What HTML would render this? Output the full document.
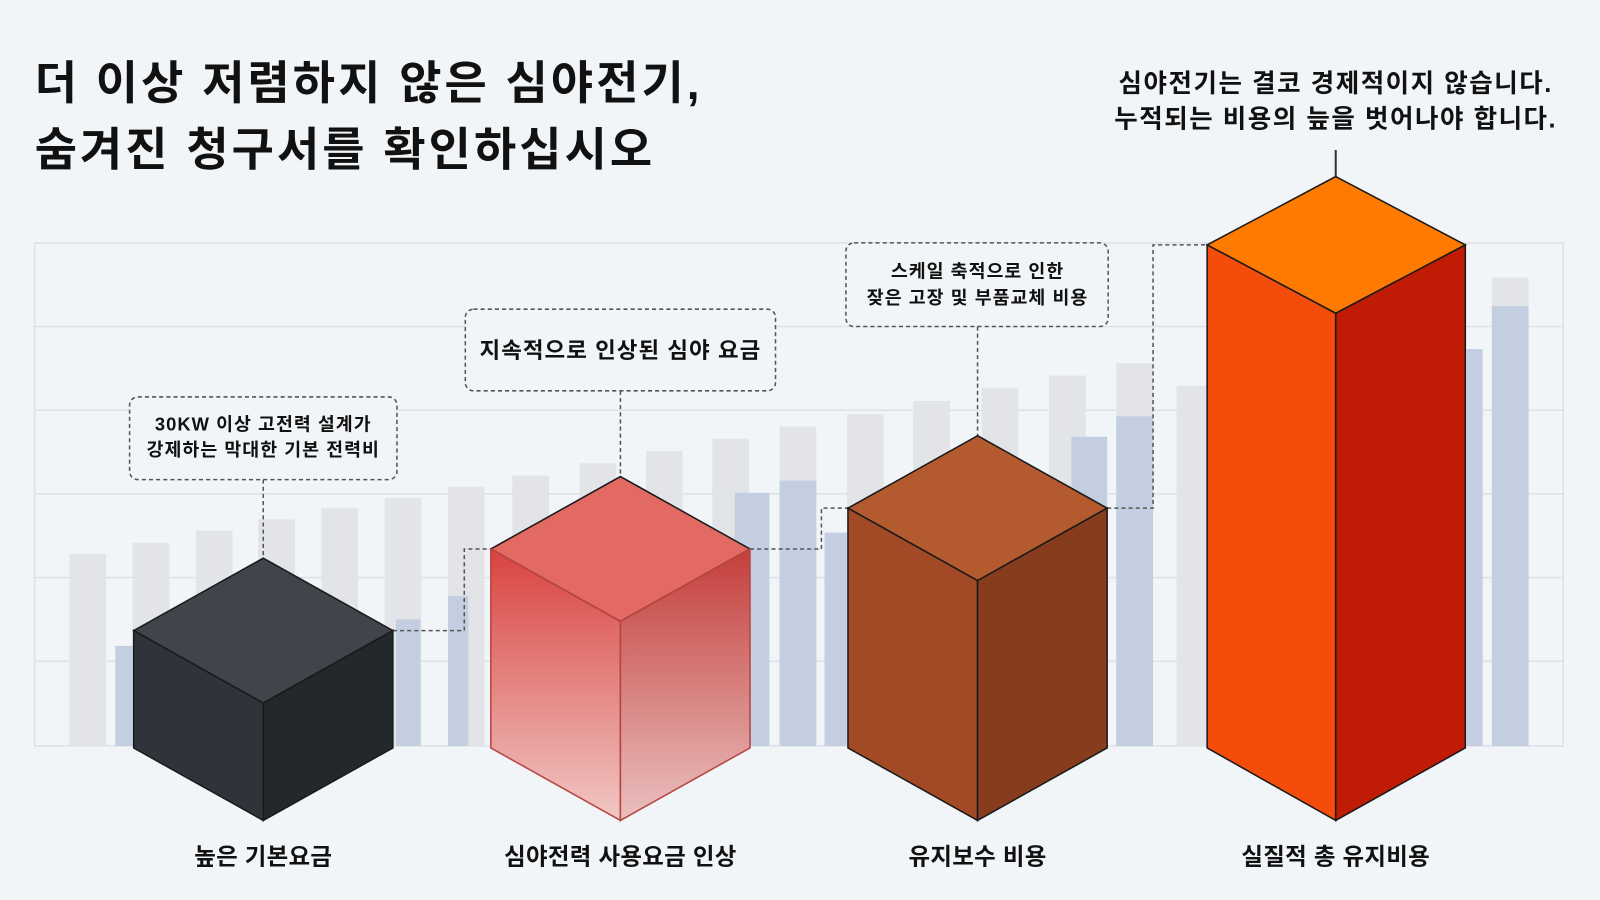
<!DOCTYPE html>
<html><head><meta charset="utf-8"><style>
html,body{margin:0;padding:0;background:#f2f5f8;}
svg{display:block}
text{font-family:"Liberation Sans","Noto Sans CJK KR",sans-serif;font-weight:bold;fill:#111;}
</style></head><body>
<svg width="1600" height="900" viewBox="0 0 1568 882" preserveAspectRatio="none">
<defs>
<linearGradient id="rl" x1="0" y1="0" x2="0" y2="1"><stop offset="0" stop-color="#d9433f"/><stop offset="1" stop-color="#f0c7c5"/></linearGradient>
<linearGradient id="rr" x1="0" y1="0" x2="0" y2="1"><stop offset="0" stop-color="#c43e3b"/><stop offset="1" stop-color="#e9c0bf"/></linearGradient>
</defs>
<rect width="1568" height="882" fill="#f2f5f8"/>
<g stroke="#dde1e6" stroke-width="1.5" fill="none">
<rect x="34" y="238" width="1498" height="493"/>
<line x1="34" y1="320" x2="1532" y2="320"/><line x1="34" y1="402" x2="1532" y2="402"/>
<line x1="34" y1="484" x2="1532" y2="484"/><line x1="34" y1="566" x2="1532" y2="566"/>
<line x1="34" y1="648" x2="1532" y2="648"/>
</g>
<g fill="#e2e4e7">
<rect x="68" y="543" width="36" height="188"/><rect x="130" y="532" width="36" height="199"/>
<rect x="192" y="520" width="36" height="211"/><rect x="253" y="509" width="36" height="222"/>
<rect x="315" y="498" width="36" height="233"/><rect x="377" y="488" width="36" height="243"/>
<rect x="439" y="477" width="36" height="254"/><rect x="502" y="466" width="36" height="265"/>
<rect x="568" y="454" width="36" height="277"/><rect x="633" y="442" width="36" height="289"/>
<rect x="698" y="430" width="36" height="301"/><rect x="764" y="418" width="36" height="313"/>
<rect x="830" y="406" width="36" height="325"/><rect x="895" y="393" width="36" height="338"/>
<rect x="962" y="380" width="36" height="351"/><rect x="1028" y="368" width="36" height="363"/>
<rect x="1094" y="356" width="36" height="375"/><rect x="1153" y="378" width="36" height="353"/>
<rect x="1462" y="272" width="36" height="459"/>
</g>
<g fill="#c3cfe0">
<rect x="113" y="633" width="17" height="98"/><rect x="388" y="607" width="24" height="124"/>
<rect x="439" y="584" width="20" height="147"/><rect x="720" y="483" width="34" height="248"/>
<rect x="764" y="471" width="36" height="260"/><rect x="808" y="522" width="22" height="209"/>
<rect x="1050" y="428" width="35" height="303"/><rect x="1094" y="408" width="36" height="323"/>
<rect x="1437" y="342" width="16" height="389"/><rect x="1462" y="300" width="36" height="431"/>
</g>
<g stroke="#555" stroke-width="1.5" stroke-dasharray="4,3" fill="none">
<path d="M385 618 H455 V538 H481"/><path d="M735 538 H805 V498 H831"/><path d="M1085 498 H1130 V240 H1183"/>
<path d="M258 470 V547"/><path d="M608 383 V467"/><path d="M958 320 V427"/>
<rect x="127" y="389" width="262" height="81" rx="8" fill="#f2f5f8"/>
<rect x="456" y="303" width="304" height="80" rx="8" fill="#f2f5f8"/>
<rect x="829" y="238" width="257" height="82" rx="8" fill="#f2f5f8"/>
</g>
<line x1="1309" y1="147" x2="1309" y2="173" stroke="#333" stroke-width="2"/>
<g stroke="#1a1a1a" stroke-width="1.5">
<polygon points="258,547 385,618 258,689 131,618" fill="#3f454b"/>
<polygon points="131,618 258,689 258,804 131,733" fill="#2e343a"/>
<polygon points="258,689 385,618 385,733 258,804" fill="#23282d"/>
<polygon points="608,467 735,538 608,609 481,538" fill="#e26a63"/>
<polygon points="481,538 608,609 608,804 481,733" fill="url(#rl)" stroke="#b84440"/>
<polygon points="608,609 735,538 735,733 608,804" fill="url(#rr)" stroke="#b84440"/>
<polygon points="958,427 1085,498 958,569 831,498" fill="#b35a2f"/>
<polygon points="831,498 958,569 958,804 831,733" fill="#a14a25"/>
<polygon points="958,569 1085,498 1085,733 958,804" fill="#873c1d"/>
<polygon points="1309,173 1436,240 1309,307 1183,240" fill="#ff7a00"/>
<polygon points="1183,240 1309,307 1309,804 1183,733" fill="#f44c0a"/>
<polygon points="1309,307 1436,240 1436,733 1309,804" fill="#c01c05"/>
</g>
<text x="34" y="97" font-size="45" letter-spacing="3">더 이상 저렴하지 않은 심야전기,</text>
<text x="34" y="162" font-size="45" letter-spacing="3">숨겨진 청구서를 확인하십시오</text>
<g text-anchor="middle">
<text x="1309" y="90" font-size="25" letter-spacing="1.5">심야전기는 결코 경제적이지 않습니다.</text>
<text x="1309" y="125" font-size="25" letter-spacing="1.5">누적되는 비용의 늪을 벗어나야 합니다.</text>
<text x="258" y="422" font-size="18" letter-spacing="1">30KW 이상 고전력 설계가</text>
<text x="258" y="447" font-size="18" letter-spacing="1">강제하는 막대한 기본 전력비</text>
<text x="608" y="351" font-size="22" letter-spacing="1">지속적으로 인상된 심야 요금</text>
<text x="958" y="272" font-size="18" letter-spacing="1">스케일 축적으로 인한</text>
<text x="958" y="298" font-size="18" letter-spacing="1">잦은 고장 및 부품교체 비용</text>
<text x="258" y="847" font-size="23" letter-spacing="0.3">높은 기본요금</text>
<text x="608" y="847" font-size="23" letter-spacing="0.3">심야전력 사용요금 인상</text>
<text x="958" y="847" font-size="23" letter-spacing="0.3">유지보수 비용</text>
<text x="1309" y="847" font-size="23" letter-spacing="0.3">실질적 총 유지비용</text>
</g>
</svg>
</body></html>
